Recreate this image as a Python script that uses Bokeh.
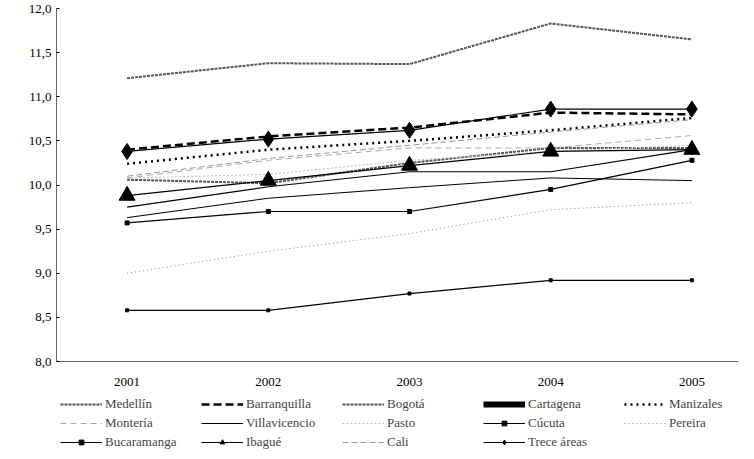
from bokeh.plotting import figure
from bokeh.models import Legend, Range1d, FixedTicker
from bokeh.layouts import column
from bokeh.embed import file_html
from bokeh.resources import INLINE

years = [2001, 2002, 2003, 2004, 2005]
medellin = [11.21, 11.38, 11.37, 11.83, 11.65]
barranquilla = [10.40, 10.55, 10.65, 10.82, 10.80]
bogota = [10.06, 10.02, 10.25, 10.42, 10.42]
cartagena = [9.75, 9.98, 10.15, 10.15, 10.40]
manizales = [10.24, 10.40, 10.50, 10.62, 10.76]
monteria = [10.08, 10.28, 10.42, 10.42, 10.56]
villavicencio = [9.63, 9.85, 9.97, 10.08, 10.05]
pasto = [10.08, 10.12, 10.28, 10.38, 10.45]
cucuta = [8.58, 8.58, 8.77, 8.92, 8.92]
pereira = [9.00, 9.25, 9.45, 9.72, 9.80]
bucaramanga = [9.57, 9.70, 9.70, 9.95, 10.28]
ibague = [9.88, 10.05, 10.22, 10.38, 10.40]
cali = [10.10, 10.30, 10.45, 10.60, 10.74]
trece = [10.38, 10.52, 10.62, 10.86, 10.86]
y_ticks = [8.0, 8.5, 9.0, 9.5, 10.0, 10.5, 11.0, 11.5, 12.0]

FONT = "Liberation Serif"

p = figure(width=744, height=388, output_backend="svg", toolbar_location=None,
           x_range=Range1d(2000.5, 2005.33), y_range=Range1d(8.0, 12.0),
           min_border_left=56, min_border_top=8, min_border_bottom=0, min_border_right=6)
p.xgrid.visible = False
p.ygrid.visible = False
p.outline_line_color = None
p.yaxis.ticker = FixedTicker(ticks=y_ticks)
p.yaxis.major_label_overrides = {t: f"{t:.1f}".replace(".", ",") for t in y_ticks}
p.xaxis.ticker = FixedTicker(ticks=years)
p.xaxis.major_tick_line_color = None
p.yaxis.minor_tick_line_color = None
p.xaxis.minor_tick_line_color = None
p.yaxis.major_tick_in = 3
p.yaxis.major_tick_out = 0
p.xaxis.major_label_standoff = 10
for ax in (p.xaxis, p.yaxis):
    ax.axis_line_color = "#666666"
    ax.major_label_text_font = FONT
    ax.major_label_text_font_size = "13px"
    ax.major_label_text_color = "black"

lf = figure(width=744, height=63, output_backend="svg", toolbar_location=None,
            x_range=Range1d(0, 1), y_range=Range1d(0, 1), min_border=0)
lf.axis.visible = False
lf.grid.visible = False
lf.outline_line_color = None

items = []
def add(name, ys, color="black", width=1, dash="solid", marker=None, size=0, lw=None):
    p.line(years, ys, line_color=color, line_width=width, line_dash=dash)
    r = [lf.line([-5, -4], [-5, -4], line_color=color, line_width=lw or width, line_dash=dash)]
    if marker:
        p.scatter(years, ys, marker=marker, size=size, color="black")
        r.append(lf.scatter([-5], [-5], marker=marker, size=min(size, 10), color="black"))
    items.append((name, r))

add("Medellín", medellin, "#555555", 2, "3 1")
add("Barranquilla", barranquilla, "black", 2.5, "8 4")
add("Bogotá", bogota, "#555555", 2, "3 1")
add("Cartagena", cartagena, "black", 1.2, lw=6)
add("Manizales", manizales, "black", 2.5, "2 4")
add("Montería", monteria, "#aaaaaa", 1, "6 4")
add("Villavicencio", villavicencio, "black", 1)
add("Pasto", pasto, "#bbbbbb", 1, "2 2")
add("Cúcuta", cucuta, "black", 1.2, "solid", "square", 3)
add("Pereira", pereira, "#888888", 1, "1 3")
add("Bucaramanga", bucaramanga, "black", 1.2, "solid", "square", 4)
add("Ibagué", ibague, "black", 1.2, "solid", "triangle", 16)
add("Cali", cali, "#999999", 1, "6 3")
add("Trece áreas", trece, "black", 1.2, "solid", "diamond", 16)

leg = Legend(items=items, orientation="horizontal", ncols=5, location=(4, 0),
             label_text_font=FONT, label_text_font_size="13px",
             glyph_width=42, glyph_height=12, spacing=0, label_width=96,
             padding=0, margin=0, border_line_color=None, background_fill_alpha=0,
             label_height=19, label_standoff=3)
lf.add_layout(leg, "center")

open("out.html", "w").write(file_html(column(p, lf, spacing=0), INLINE))
